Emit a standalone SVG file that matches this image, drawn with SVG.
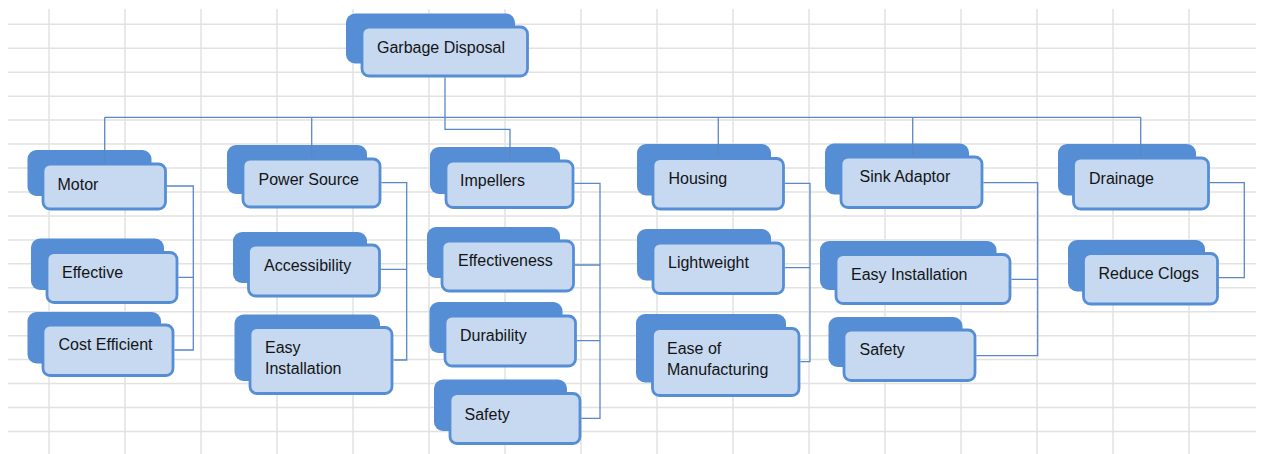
<svg xmlns="http://www.w3.org/2000/svg" width="1262" height="454" viewBox="0 0 1262 454">
<style>
.g{stroke:#e2e2e2;stroke-width:1.5;fill:none}
.b{fill:#558ED5}
.f{fill:#C6D9F1;stroke:#558ED5;stroke-width:2.8}
.t{font-family:"Liberation Sans",Arial,sans-serif;font-size:16px;fill:#141414}
.c{fill:none;stroke:#5A87C6;stroke-width:1.3}
</style>
<rect width="1262" height="454" fill="#ffffff"/>
<g id="grid" class="g">
<path d="M49 9V454M125 9V454M201 9V454M277 9V454M353 9V454M429 9V454M505 9V454M581 9V454M657 9V454M733 9V454M809 9V454M885 9V454M961 9V454M1037 9V454M1113 9V454M1189 9V454"/>
<path d="M8 24.3H1256M8 48.3H1256M8 72.2H1256M8 96.2H1256M8 120.1H1256M8 144.1H1256M8 168H1256M8 192H1256M8 215.9H1256M8 239.9H1256M8 263.8H1256M8 287.8H1256M8 311.7H1256M8 335.7H1256M8 359.6H1256M8 383.6H1256M8 407.5H1256M8 431.5H1256"/>
</g>
<g id="root"><rect class="b" x="346" y="13.5" width="169" height="50" rx="9"/><rect class="f" x="362" y="27" width="165.5" height="49" rx="7"/><text class="t" x="377" y="52.5">Garbage Disposal</text></g>
<g id="motor"><rect class="b" x="27.5" y="150" width="124" height="46" rx="9"/><rect class="f" x="43" y="164" width="122.5" height="45" rx="7"/><text class="t" x="57.5" y="189.5">Motor</text></g>
<g id="effective"><rect class="b" x="31" y="238.5" width="133" height="51.5" rx="9"/><rect class="f" x="47" y="252.5" width="130" height="50" rx="7"/><text class="t" x="62" y="277.5">Effective</text></g>
<g id="cost-efficient"><rect class="b" x="27.5" y="312" width="133.5" height="51.5" rx="9"/><rect class="f" x="43" y="325" width="130" height="50.5" rx="7"/><text class="t" x="58.5" y="350">Cost Efficient</text></g>
<g id="power-source"><rect class="b" x="227" y="145" width="140" height="49" rx="9"/><rect class="f" x="243" y="159" width="137" height="48" rx="7"/><text class="t" x="258.5" y="185">Power Source</text></g>
<g id="accessibility"><rect class="b" x="233" y="232" width="134" height="51" rx="9"/><rect class="f" x="248.5" y="245" width="131" height="51" rx="7"/><text class="t" x="264" y="271">Accessibility</text></g>
<g id="easy-installation-power"><rect class="b" x="234.5" y="314.5" width="145.5" height="66.5" rx="9"/><rect class="f" x="250" y="327.5" width="142" height="66" rx="7"/><text class="t" x="265" y="352.5">Easy</text><text class="t" x="265" y="374">Installation</text></g>
<g id="impellers"><rect class="b" x="430" y="147" width="130" height="47" rx="9"/><rect class="f" x="446" y="161" width="127" height="46.5" rx="7"/><text class="t" x="460" y="186">Impellers</text></g>
<g id="effectiveness"><rect class="b" x="427" y="227" width="133" height="51" rx="9"/><rect class="f" x="442" y="241" width="131.5" height="50" rx="7"/><text class="t" x="458" y="266">Effectiveness</text></g>
<g id="durability"><rect class="b" x="429.5" y="302" width="133" height="51" rx="9"/><rect class="f" x="445" y="316" width="130.5" height="50" rx="7"/><text class="t" x="460" y="341">Durability</text></g>
<g id="safety-impellers"><rect class="b" x="434" y="379.5" width="133" height="51.5" rx="9"/><rect class="f" x="450" y="393.5" width="130" height="50" rx="7"/><text class="t" x="464.5" y="419.5">Safety</text></g>
<g id="housing"><rect class="b" x="637" y="144" width="134" height="51.5" rx="9"/><rect class="f" x="653" y="158.5" width="130.5" height="50.5" rx="7"/><text class="t" x="668.5" y="183.5">Housing</text></g>
<g id="lightweight"><rect class="b" x="637" y="229" width="134" height="51.5" rx="9"/><rect class="f" x="653" y="243" width="130.5" height="50.5" rx="7"/><text class="t" x="668" y="268">Lightweight</text></g>
<g id="ease-of-manufacturing"><rect class="b" x="636" y="314" width="150" height="68.5" rx="9"/><rect class="f" x="652.5" y="328.5" width="146.5" height="67" rx="7"/><text class="t" x="667" y="353.5">Ease of</text><text class="t" x="667" y="375">Manufacturing</text></g>
<g id="sink-adaptor"><rect class="b" x="825" y="143.5" width="144" height="51" rx="9"/><rect class="f" x="841" y="157" width="141" height="50.5" rx="7"/><text class="t" x="859.5" y="182">Sink Adaptor</text></g>
<g id="easy-installation-sink"><rect class="b" x="820" y="241" width="176.5" height="49" rx="9"/><rect class="f" x="836" y="254.5" width="174" height="49" rx="7"/><text class="t" x="851" y="280">Easy Installation</text></g>
<g id="safety-sink"><rect class="b" x="828.5" y="317" width="134" height="50" rx="9"/><rect class="f" x="844" y="330" width="131" height="50.5" rx="7"/><text class="t" x="859.5" y="355">Safety</text></g>
<g id="drainage"><rect class="b" x="1058" y="144" width="138" height="51.5" rx="9"/><rect class="f" x="1073.5" y="158" width="135" height="51" rx="7"/><text class="t" x="1089" y="183.5">Drainage</text></g>
<g id="reduce-clogs"><rect class="b" x="1068" y="240" width="137" height="51.5" rx="9"/><rect class="f" x="1083.5" y="253.5" width="134" height="50.5" rx="7"/><text class="t" x="1098.5" y="279">Reduce Clogs</text></g>
<g id="connectors" class="c">
<path d="M104.7 117.3H1140.7"/>
<path d="M104.7 117.3V162.6M311.7 117.3V157.6M718.3 117.3V157.1M912.7 117.3V155.6M1140.7 117.3V156.6"/>
<path d="M445 77.4V129.3H510V159.6"/>
<path d="M166.9 186H193.3V350H174.4M178.4 277.3H193.3"/>
<path d="M381.4 182.7H406.7V360H393.7M380.9 269.3H406.7"/>
<path d="M574.4 183.3H600V418.3H581.4M574.9 265H600M576.9 340.7H600"/>
<path d="M784.9 183.3H810V361.7H800.4M784.9 267.7H810"/>
<path d="M983.4 182.7H1037.7V355.7H976.4M1011.4 279.3H1037.7"/>
<path d="M1209.9 182.7H1244.3V277.7H1218.9"/>
</g>
</svg>
